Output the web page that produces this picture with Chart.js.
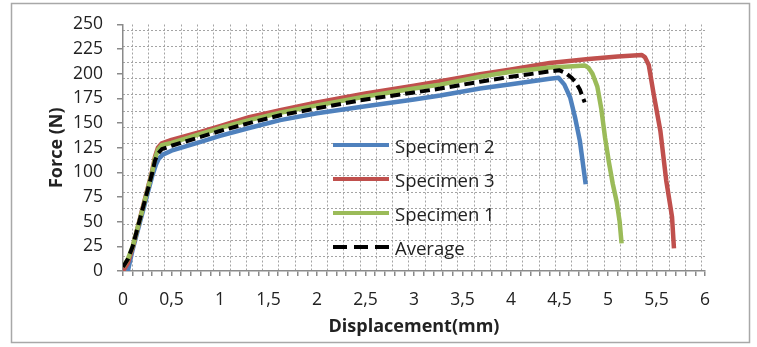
<!DOCTYPE html>
<html>
<head>
<meta charset="utf-8">
<script src="https://cdn.jsdelivr.net/npm/chart.js@4.4.1/dist/chart.umd.min.js"></script>
<style>
  html, body { margin: 0; padding: 0; background: #fff; }
  #wrap { position: relative; width: 757px; height: 347px; }
  #legend {
    position: absolute; left: 333px; top: 128px;
    font-family: "Open Sans", sans-serif; font-size: 18.5px; color: #222;
  }
  .item { display: flex; align-items: center; height: 34px; }
  .swatch { width: 56px; height: 4.5px; margin-right: 6px; }
</style>
</head>
<body>
<div id="wrap">
  <canvas id="myChart" width="757" height="347"></canvas>
  <div id="legend"></div>
</div>
<script>
// 軸ラベル
const X_TICK_LABELS = ["0", "0,5", "1", "1,5", "2", "2,5", "3", "3,5", "4", "4,5", "5", "5,5", "6"];
const Y_TICK_LABELS = ["0", "25", "50", "75", "100", "125", "150", "175", "200", "225", "250"];

// 系列データ（変位 mm / 荷重 N）
const SPEC2_X = [0.05, 0.1, 0.2, 0.3, 0.34, 0.37, 0.41, 0.5, 0.8, 1.0, 1.3, 1.62, 2.0, 2.5, 3.0, 3.27, 3.68, 4.0, 4.4, 4.49, 4.55, 4.61, 4.66, 4.71, 4.77];
const SPEC2_Y = [0, 22, 59, 96, 108, 114, 118, 122, 131, 137, 145, 153, 160, 167, 174, 178, 185, 189.5, 195, 196, 189, 176, 156, 132, 88];

const SPEC3_X = [0, 0.05, 0.1, 0.2, 0.3, 0.33, 0.36, 0.4, 0.5, 0.8, 1.0, 1.3, 1.62, 2.0, 2.5, 3.0, 3.27, 3.68, 4.0, 4.4, 4.8, 5.1, 5.35, 5.38, 5.42, 5.47, 5.54, 5.6, 5.66, 5.68];
const SPEC3_Y = [0, 8, 24, 63, 101, 116, 125, 129.5, 133, 141, 147, 156, 163, 171, 180, 188, 192.5, 199.5, 204.5, 211, 215, 217.5, 219, 217, 209, 180, 142, 92, 55, 23];

const SPEC1_X = [0, 0.05, 0.1, 0.2, 0.3, 0.33, 0.36, 0.4, 0.5, 0.8, 1.0, 1.3, 1.62, 2.0, 2.5, 3.0, 3.27, 3.68, 4.0, 4.4, 4.6, 4.76, 4.8, 4.84, 4.89, 4.93, 4.97, 5.01, 5.05, 5.09, 5.12, 5.14];
const SPEC1_Y = [4, 12, 25, 62, 100, 114, 123, 127.5, 130, 139, 145, 153, 160.5, 168, 177, 185, 189, 197, 202, 206.5, 207.5, 208.5, 206, 200, 187, 165, 135, 110, 88, 70, 50, 28];

const AVG_X = [0, 0.05, 0.1, 0.2, 0.3, 0.33, 0.36, 0.4, 0.5, 0.8, 1.0, 1.3, 1.62, 2.0, 2.5, 3.0, 3.27, 3.68, 4.0, 4.4, 4.5, 4.56, 4.625, 4.67, 4.71, 4.76];
const AVG_Y = [4, 12, 25, 62, 99, 112, 119, 123.5, 127, 136, 142, 150, 158, 165, 174, 181, 185, 192, 197, 202.5, 203.5, 201, 196, 191, 184, 171];

const COLORS = {
  blue: "#4f81bd",
  red: "#c0504d",
  green: "#9bbb59",
  black: "#000000",
  grid: "#a4a4a4",
  axis: "#8a8a8a",
  text: "#222222",
};

const toPoints = (xs, ys) => xs.map((x, i) => ({ x, y: ys[i] }));

const makeSet = (label, xs, ys, color, order, dash) => ({
  label,
  data: toPoints(xs, ys),
  borderColor: color,
  backgroundColor: color,
  borderWidth: dash ? 4 : 4.5,
  borderDash: dash || [],
  borderJoinStyle: "round",
  pointRadius: 0,
  showLine: true,
  tension: 0,
  order,
  xAxisID: "x",
  yAxisID: "y",
});

const datasets = [
  makeSet("Specimen 2", SPEC2_X, SPEC2_Y, COLORS.blue, 3),
  makeSet("Specimen 3", SPEC3_X, SPEC3_Y, COLORS.red, 2),
  makeSet("Specimen 1", SPEC1_X, SPEC1_Y, COLORS.green, 1),
  makeSet("Average", AVG_X, AVG_Y, COLORS.black, 0, [10, 5]),
];

// 点線グリッド用（目盛りとは別の間隔）
const gridTicks = (start, step, count) =>
  Array.from({ length: count }, (_, k) => ({ value: start + k * step }));

// 外枠
const frame = {
  id: "frame",
  beforeDraw(chart) {
    const { ctx } = chart;
    ctx.save();
    ctx.fillStyle = "#fff";
    ctx.fillRect(0, 0, chart.width, chart.height);
    ctx.strokeStyle = "#a8a8a8";
    ctx.lineWidth = 1.5;
    ctx.strokeRect(11.5, 3.5, 738, 339);
    ctx.restore();
  },
};

Chart.defaults.font.family = "'Open Sans', sans-serif";
Chart.defaults.color = COLORS.text;

const chartConfig = {
  type: "scatter",
  data: { datasets },
  plugins: [frame],
  options: {
    responsive: false,
    animation: false,
    layout: { padding: { top: 23, right: 52, bottom: 9, left: 46 } },
    plugins: {
      legend: { display: false },
      tooltip: { enabled: false },
    },
    scales: {
      x: {
        type: "linear",
        min: 0,
        max: 6,
        afterFit: (s) => { s.height = 67; },
        ticks: {
          stepSize: 0.1,
          autoSkip: false,
          maxRotation: 0,
          padding: 14,
          font: { size: 17.5 },
          callback: (v) => {
            const t = Math.round(v * 10);
            return t % 5 === 0 ? X_TICK_LABELS[t / 5] : "";
          },
        },
        grid: { drawOnChartArea: false, tickLength: 5, color: COLORS.axis, lineWidth: 1.5 },
        border: { color: COLORS.axis, width: 1.5 },
        title: {
          display: true,
          text: "Displacement(mm)",
          padding: { top: 4, bottom: 0 },
          font: { size: 18, weight: "bold" },
          color: COLORS.text,
        },
      },
      y: {
        type: "linear",
        min: 0,
        max: 250,
        afterFit: (s) => { s.width = 77; },
        ticks: {
          stepSize: 25,
          padding: 14,
          font: { size: 17.5 },
          callback: (v) => Y_TICK_LABELS[Math.round(v / 25)],
        },
        grid: { drawOnChartArea: false, tickLength: 6, color: COLORS.axis, lineWidth: 1.5 },
        border: { color: COLORS.axis, width: 1.5 },
        title: {
          display: true,
          text: "Force (N)",
          padding: 0,
          font: { size: 18, weight: "bold" },
          color: COLORS.text,
        },
      },
      gx: {
        type: "linear",
        position: "bottom",
        min: 0,
        max: 6,
        afterFit: (s) => { s.height = 0; },
        afterBuildTicks: (s) => { s.ticks = gridTicks(0.097, 0.1677, 36); },
        ticks: { display: false },
        border: { display: false, dash: [2, 2] },
        grid: { drawTicks: false, color: COLORS.grid, lineWidth: 1 },
      },
      gy: {
        type: "linear",
        position: "left",
        min: 0,
        max: 250,
        afterFit: (s) => { s.width = 0; },
        afterBuildTicks: (s) => { s.ticks = gridTicks(14.4, 16.41, 15); },
        ticks: { display: false },
        border: { display: false, dash: [2, 2] },
        grid: { drawTicks: false, color: COLORS.grid, lineWidth: 1 },
      },
    },
  },
};

const initChart = () => {
  const canvas = document.getElementById("myChart");
  if (!canvas) return;
  const chart = new Chart(canvas, chartConfig);

  // 凡例（HTML）
  const legend = document.getElementById("legend");
  chart.data.datasets.forEach((ds) => {
    const item = document.createElement("div");
    item.className = "item";
    const sw = document.createElement("div");
    sw.className = "swatch";
    sw.style.background = ds.borderDash.length
      ? `repeating-linear-gradient(to right, ${ds.borderColor} 0 14px, transparent 14px 21px)`
      : ds.borderColor;
    const txt = document.createElement("span");
    txt.textContent = ds.label;
    item.append(sw, txt);
    legend.append(item);
  });
};

initChart();
</script>
</body>
</html>
